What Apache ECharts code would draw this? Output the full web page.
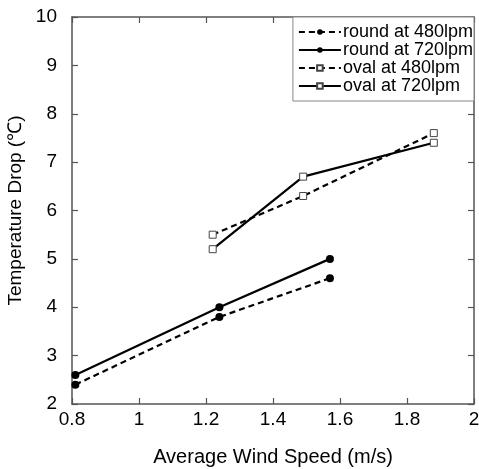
<!DOCTYPE html>
<html><head><meta charset="utf-8">
<script src="https://cdn.jsdelivr.net/npm/echarts@6/dist/echarts.min.js"></script>
<style>html,body{margin:0;padding:0;background:#fff}#c{width:479px;height:469px}</style>
</head><body><div id="c"></div>
<script>
const seriesNames = ['round at 480lpm','round at 720lpm','oval at 480lpm','oval at 720lpm'];
const round480X = [0.81, 1.24, 1.57];
const round480Y = [2.4, 3.8, 4.6];
const round720X = [0.81, 1.24, 1.57];
const round720Y = [2.6, 4.0, 5.0];
const oval480X = [1.22, 1.49, 1.88];
const oval480Y = [5.5, 6.3, 7.6];
const oval720X = [1.22, 1.49, 1.88];
const oval720Y = [5.2, 6.7, 7.4];
const xTicks = [0.8, 1, 1.2, 1.4, 1.6, 1.8, 2];
const yTicks = [2,3,4,5,6,7,8,9,10];

const zip = (xs, ys) => xs.map((x,i)=>[x, ys[i]]);
const fontFam = 'Liberation Sans, Arial, sans-serif';
const axisColor = '#555';
function mk(name, xs, ys, dashed, sym) {
  return {
    name, type:'line', data: zip(xs, ys),
    symbol: sym, symbolSize: sym==='circle' ? 8 : 7,
    lineStyle:{color:'#000', width: 2.2, type: dashed ? [6,4] : 'solid'},
    itemStyle:{color: sym==='circle' ? '#000' : '#fff', borderColor: sym==='circle' ? '#000' : '#444', borderWidth: sym==='circle'?0:1},
    emphasis:{disabled:true}, animation:false
  };
}
const chart = echarts.init(document.getElementById('c'));
const baseAxis = {
  axisLine:{show:true, lineStyle:{color:axisColor, width:1.5}},
  axisTick:{show:true, inside:true, length:6, lineStyle:{color:axisColor, width:1.2}},
  splitLine:{show:false}
};
chart.setOption({
  backgroundColor:'#fff',
  grid:{left:72, right:5, top:17, bottom:65, outerBoundsMode:'none', containLabel:false},
  legend:{
    data: seriesNames, orient:'vertical', right:5, top:17,
    itemWidth:42, itemHeight:7, itemGap:0,
    padding:[6,1,6,5],
    borderColor:'#888', borderWidth:1, backgroundColor:'#fff',
    textStyle:{fontSize:18, lineHeight:18, color:'#000', fontFamily:fontFam, padding:[0,0,0,-3]}
  },
  xAxis:[
    Object.assign({type:'value', min:0.8, max:2, interval:0.2, position:'bottom',
      name:'Average Wind Speed (m/s)', nameLocation:'middle', nameGap:43,
      nameTextStyle:{fontSize:20, color:'#000', fontFamily:fontFam},
      axisLabel:{fontSize:19, color:'#000', fontFamily:fontFam, margin:6,
        formatter:v=>{const t=xTicks.find(k=>Math.abs(k-v)<1e-6);return t===undefined?'':String(t);}}
    }, baseAxis),
    Object.assign({type:'value', min:0.8, max:2, interval:0.2, position:'top', axisLabel:{show:false}}, baseAxis)
  ],
  yAxis:[
    Object.assign({type:'value', min:2, max:10, interval:1, position:'left',
      name:'Temperature Drop (℃)', nameLocation:'middle', nameGap:43,
      nameTextStyle:{fontSize:19, color:'#000', fontFamily:fontFam},
      axisLabel:{fontSize:19, color:'#000', fontFamily:fontFam, margin:15,
        formatter:v=>{const t=yTicks.find(k=>Math.abs(k-v)<1e-6);return t===undefined?'':String(t);}}
    }, baseAxis),
    Object.assign({type:'value', min:2, max:10, interval:1, position:'right', axisLabel:{show:false}}, baseAxis)
  ],
  series:[
    mk(seriesNames[0], round480X, round480Y, true, 'circle'),
    mk(seriesNames[1], round720X, round720Y, false, 'circle'),
    mk(seriesNames[2], oval480X, oval480Y, true, 'rect'),
    mk(seriesNames[3], oval720X, oval720Y, false, 'rect')
  ]
});
</script></body></html>
